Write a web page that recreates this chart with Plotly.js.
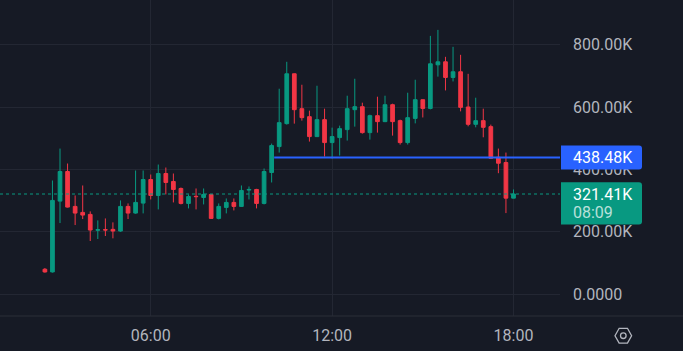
<!DOCTYPE html>
<html><head><meta charset="utf-8">
<script src="https://cdn.plot.ly/plotly-3.0.1.min.js"></script>
<style>html,body{margin:0;padding:0;background:#161a25;overflow:hidden}</style>
</head><body><div id="chart" style="width:683px;height:351px"></div>
<script>
// 15-minute candles, values in thousands
const times = ["02:30","02:45","03:00","03:15","03:30","03:45","04:00","04:15","04:30","04:45",
"05:00","05:15","05:30","05:45","06:00","06:15","06:30","06:45","07:00","07:15",
"07:30","07:45","08:00","08:15","08:30","08:45","09:00","09:15","09:30","09:45",
"10:00","10:15","10:30","10:45","11:00","11:15","11:30","11:45","12:00","12:15",
"12:30","12:45","13:00","13:15","13:30","13:45","14:00","14:15","14:30","14:45",
"15:00","15:15","15:30","15:45","16:00","16:15","16:30","16:45","17:00","17:15",
"17:30","17:45","18:00"];
const openK = [80,71.4,298.6,393.6,281.6,262.4,256,205,207,208,
202.6,281.6,260.2,292.2,368,316.8,387.2,361.6,339.2,291.2,
314,310.4,320,243.2,278.4,294.4,281.6,334,336,291.2,
390.4,473.6,547.2,707.2,595.2,569.6,505.6,560,486.4,502.4,
528,592,601.6,518.4,572.8,553.6,608,556.8,486.4,564,
624,596,736,745.6,695.4,713.6,600.6,545,556.8,537.6,
439.4,422.4,308.2];
const highK = [84,364.8,467.2,419.2,316.8,348.8,265.6,236.8,243,230.4,
300.8,291.2,396.8,396.8,384,416,406.4,387.2,342.4,320,
339.2,339.2,321,291.2,307.2,307.2,348.8,345.6,338,403.2,
483.2,659.2,745.6,708,672,588.8,668.8,595.2,534.4,540.8,
636.8,691.2,614.4,576,633.6,636.8,611.2,560,646.4,688,
625,828.8,848,761.6,793.6,768,707,630.4,595.2,544,
467.2,454.4,336];
const lowK = [69,69.4,228.2,278,221.8,241,170.6,177,186.6,179.2,
200,241,258,259.2,304,272,320,294.4,288,275.2,
272,288,242,240,259.2,268.8,280,304,275.2,288,
358.4,454.4,544,547.2,556.8,489.6,504,441.6,435.2,444.8,
492.8,537.6,515.2,496,518.4,552,508.8,480,480,548,
567,593,698,653.8,682.6,586.6,538.6,535.4,503.4,436,
388.2,260.2,308];
const closeK = [71.4,300.8,393.6,279.4,260.2,253.8,205.8,207,206,202.6,
281.6,260.2,294.4,368,316.8,387.2,358.4,336,291.2,313.6,
313,320,243.2,281.6,294.4,281.6,332.8,336,291.2,393.6,
476.8,550.4,707.2,592,566.4,505.6,560,486.4,505.6,531.2,
595.2,601.6,518.4,572.8,553.6,608,553.6,486.4,566.4,624,
596,739.2,745.6,695.4,713.6,599.4,545,556.8,535.4,436,
420.2,308.2,321.41];

const yTickVals = [0, 200000, 400000, 600000, 800000];
const yTickText = ["0.0000", "200.00K", "400.00K", "600.00K", "800.00K"];
const xTickTimes = ["06:00", "12:00", "18:00"];

const rayStart = "10:05";
const rayPrice = 438480;
const rayLabel = "438.48K";
const lastPrice = 321410;
const lastLabel = "321.41K";
const countdown = "08:09";

const day = "2024-01-01 ";
const K = v => v * 1000;
const x = times.map(t => day + t);

const GREEN = "#089981", RED = "#f23645", BLUE = "#2962ff";
const GRID = "#232733", TXT = "#b2b5be", BG = "#161a25";
const FONT = "Roboto, 'DejaVu Sans', sans-serif";

const trace = {
  type: "candlestick",
  x: x,
  open: openK.map(K), high: highK.map(K), low: lowK.map(K), close: closeK.map(K),
  increasing: {line: {color: GREEN, width: 1}, fillcolor: GREEN},
  decreasing: {line: {color: RED, width: 1}, fillcolor: RED},
  whiskerwidth: 0,
  hoverinfo: "skip",
  showlegend: false
};

const plotW = 560, plotH = 316;
function rounded(x0, x1, y0, y1, r) {
  return `M ${x0},${y1} L ${x1 - r},${y1} Q ${x1},${y1} ${x1},${y1 - r} L ${x1},${y0 + r} Q ${x1},${y0} ${x1 - r},${y0} L ${x0},${y0} Z`;
}

const shapes = [
  {type: "line", xref: "x", yref: "y", x0: day + rayStart, x1: day + "19:40", y0: rayPrice, y1: rayPrice,
   line: {color: BLUE, width: 2}},
  {type: "line", xref: "paper", yref: "y", x0: 0, x1: 1, y0: lastPrice, y1: lastPrice,
   line: {color: GREEN, width: 1, dash: "dot"}},
  {type: "line", xref: "paper", yref: "paper", x0: 0, x1: 683 / plotW, y0: 0, y1: 0,
   line: {color: "#2a2e39", width: 1}},
  {type: "path", xref: "paper", yref: "y", xsizemode: "pixel", ysizemode: "pixel",
   xanchor: 1, yanchor: rayPrice, path: rounded(1, 82, -12, 12, 3),
   fillcolor: BLUE, line: {width: 0}},
  {type: "path", xref: "paper", yref: "y", xsizemode: "pixel", ysizemode: "pixel",
   xanchor: 1, yanchor: lastPrice, path: rounded(1, 82, -30.5, 11.8, 3),
   fillcolor: GREEN, line: {width: 0}},
  {type: "path", xref: "paper", yref: "paper", xsizemode: "pixel", ysizemode: "pixel",
   xanchor: 623.3 / plotW, yanchor: (plotH - 335.7) / plotH,
   path: "M -8.3,0 L -4.15,7.4 L 4.15,7.4 L 8.3,0 L 4.15,-7.4 L -4.15,-7.4 Z",
   line: {color: TXT, width: 1.3}},
  {type: "circle", xref: "paper", yref: "paper", xsizemode: "pixel", ysizemode: "pixel",
   xanchor: 623.3 / plotW, yanchor: (plotH - 335.7) / plotH,
   x0: -2.8, x1: 2.8, y0: -2.8, y1: 2.8, line: {color: TXT, width: 1.3}}
];

const annotations = [
  {xref: "paper", yref: "y", x: 1, y: rayPrice, xanchor: "left", yanchor: "middle", xshift: 11,
   text: rayLabel, showarrow: false, font: {family: FONT, size: 16, color: "#ffffff"}},
  {xref: "paper", yref: "y", x: 1, y: lastPrice, xanchor: "left", yanchor: "middle", xshift: 11,
   text: lastLabel, showarrow: false, font: {family: FONT, size: 16, color: "#ffffff"}},
  {xref: "paper", yref: "y", x: 1, y: lastPrice, xanchor: "left", yanchor: "middle", xshift: 11, yshift: -18,
   text: countdown, showarrow: false, font: {family: FONT, size: 16, color: "rgba(255,255,255,0.72)"}}
];

const layout = {
  width: 683, height: 351,
  margin: {l: 0, r: 123, t: 0, b: 35, pad: 0},
  paper_bgcolor: BG, plot_bgcolor: BG,
  showlegend: false,
  hovermode: false,
  font: {family: FONT, size: 16, color: TXT},
  xaxis: {
    type: "date",
    range: [day + "01:00:54", day + "19:32:17"],
    tickvals: xTickTimes.map(t => day + t), ticktext: xTickTimes,
    showgrid: true, gridcolor: GRID, gridwidth: 1,
    zeroline: false, showline: false, ticks: "",
    ticklabelstandoff: 8,
    tickfont: {family: FONT, size: 16, color: TXT},
    rangeslider: {visible: false},
    fixedrange: true
  },
  yaxis: {
    side: "right",
    range: [-70000, 943900],
    tickvals: yTickVals, ticktext: yTickText,
    showgrid: true, gridcolor: GRID, gridwidth: 1,
    zeroline: false, showline: false, ticks: "",
    ticklabelstandoff: 12,
    tickfont: {family: FONT, size: 16, color: TXT},
    fixedrange: true
  },
  boxgap: 0.3,
  shapes: shapes,
  annotations: annotations
};

Plotly.newPlot("chart", [trace], layout, {displayModeBar: false, staticPlot: true});
</script>
</body></html>
